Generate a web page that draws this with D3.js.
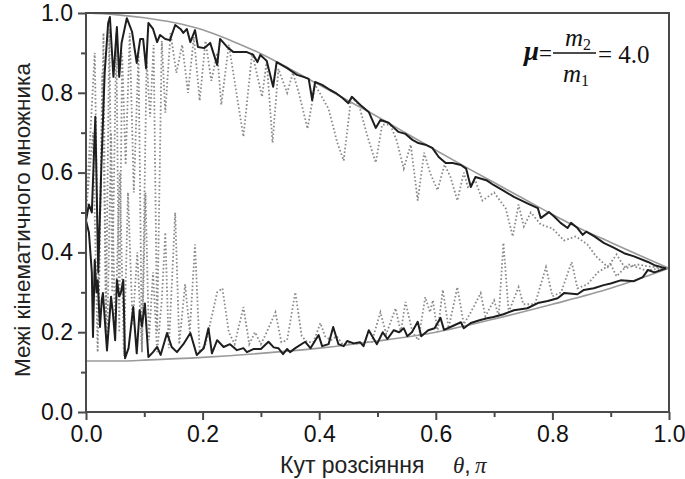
<!DOCTYPE html>
<html>
<head>
<meta charset="utf-8">
<script src="https://cdn.jsdelivr.net/npm/d3@7"></script>
<style>
  body { margin: 0; background: #fff; }
  svg { display: block; }
  .tick text { font-family: "Liberation Sans", Arial, sans-serif; }
</style>
</head>
<body>
<svg id="chart" width="685" height="479"></svg>
<script>
// ---- data ----
// x is scattering angle in units of pi, y is the kinematic factor bound

// smooth theoretical bounds (gray)
const upperBound = [[0, 1.0], [0.05, 0.996], [0.1, 0.988], [0.15, 0.976], [0.2, 0.958], [0.25, 0.93],
  [0.3, 0.898], [0.35, 0.86], [0.4, 0.82], [0.45, 0.78], [0.5, 0.74], [0.55, 0.698], [0.6, 0.656],
  [0.65, 0.615], [0.7, 0.575], [0.75, 0.535], [0.8, 0.495], [0.85, 0.458], [0.9, 0.425],
  [0.95, 0.392], [1.0, 0.36]];

const lowerBound = [[0, 0.128], [0.065, 0.128], [0.1, 0.13], [0.2, 0.137], [0.3, 0.147], [0.4, 0.16],
  [0.5, 0.178], [0.6, 0.2], [0.7, 0.233], [0.8, 0.27], [0.9, 0.31], [1.0, 0.36]];

// simulated upper limit (black solid)
const upperSim = [[0, 0.48], [0.005, 0.52], [0.01, 0.5], [0.016, 0.74], [0.021, 0.35], [0.026, 0.6],
  [0.032, 0.85], [0.038, 0.975], [0.041, 0.99], [0.047, 0.84], [0.053, 0.965], [0.057, 0.84],
  [0.061, 0.925], [0.07, 0.987], [0.079, 0.953], [0.087, 0.875], [0.093, 0.935], [0.098, 0.935],
  [0.103, 0.862], [0.107, 0.975], [0.115, 0.96], [0.122, 0.927], [0.127, 0.945], [0.136, 0.935],
  [0.144, 0.932], [0.153, 0.97], [0.162, 0.96], [0.167, 0.95], [0.173, 0.96], [0.179, 0.927],
  [0.187, 0.957], [0.192, 0.915], [0.203, 0.912], [0.213, 0.925], [0.225, 0.87], [0.23, 0.935],
  [0.242, 0.915], [0.253, 0.902], [0.276, 0.902], [0.287, 0.895], [0.294, 0.877], [0.299, 0.895],
  [0.31, 0.88], [0.321, 0.815], [0.327, 0.877], [0.345, 0.862], [0.362, 0.845], [0.373, 0.84],
  [0.382, 0.835], [0.388, 0.782], [0.393, 0.827], [0.405, 0.82], [0.419, 0.807], [0.428, 0.8],
  [0.44, 0.787], [0.45, 0.774], [0.456, 0.79], [0.471, 0.769], [0.485, 0.752], [0.497, 0.712],
  [0.505, 0.732], [0.519, 0.725], [0.527, 0.714], [0.536, 0.702], [0.548, 0.697], [0.56, 0.682],
  [0.57, 0.674], [0.582, 0.67], [0.594, 0.662], [0.605, 0.639], [0.617, 0.624], [0.629, 0.624],
  [0.643, 0.619], [0.652, 0.61], [0.66, 0.564], [0.668, 0.589], [0.688, 0.58], [0.699, 0.569],
  [0.716, 0.555], [0.734, 0.539], [0.757, 0.523], [0.775, 0.511], [0.78, 0.486], [0.794, 0.501],
  [0.803, 0.49], [0.814, 0.474], [0.826, 0.461], [0.832, 0.474], [0.843, 0.461], [0.852, 0.444],
  [0.858, 0.452], [0.872, 0.44], [0.888, 0.424], [0.905, 0.412], [0.923, 0.398], [0.94, 0.39],
  [0.964, 0.376], [0.975, 0.368], [0.995, 0.36]];

// simulated lower limit (black solid)
const lowerSim = [[0, 0.48], [0.005, 0.45], [0.01, 0.35], [0.012, 0.188], [0.015, 0.381], [0.018, 0.3],
  [0.02, 0.33], [0.024, 0.213], [0.027, 0.28], [0.029, 0.298], [0.036, 0.155], [0.043, 0.289],
  [0.046, 0.25], [0.05, 0.18], [0.053, 0.331], [0.057, 0.29], [0.06, 0.3], [0.064, 0.331],
  [0.067, 0.135], [0.073, 0.16], [0.081, 0.263], [0.087, 0.147], [0.092, 0.255], [0.096, 0.215],
  [0.101, 0.272], [0.107, 0.138], [0.115, 0.15], [0.122, 0.163], [0.128, 0.143], [0.139, 0.198],
  [0.147, 0.163], [0.156, 0.15], [0.167, 0.17], [0.179, 0.198], [0.19, 0.143], [0.202, 0.16],
  [0.21, 0.21], [0.216, 0.147], [0.225, 0.18], [0.236, 0.163], [0.247, 0.17], [0.259, 0.155],
  [0.27, 0.16], [0.276, 0.15], [0.288, 0.158], [0.3, 0.158], [0.313, 0.176], [0.322, 0.162],
  [0.33, 0.16], [0.338, 0.145], [0.345, 0.158], [0.35, 0.15], [0.359, 0.16], [0.376, 0.176],
  [0.385, 0.16], [0.399, 0.193], [0.405, 0.165], [0.416, 0.17], [0.424, 0.213], [0.433, 0.17],
  [0.442, 0.165], [0.448, 0.178], [0.459, 0.172], [0.47, 0.175], [0.476, 0.165], [0.485, 0.205],
  [0.499, 0.17], [0.509, 0.2], [0.517, 0.183], [0.528, 0.205], [0.537, 0.2], [0.545, 0.21],
  [0.551, 0.19], [0.559, 0.2], [0.569, 0.226], [0.575, 0.19], [0.587, 0.205], [0.598, 0.21],
  [0.608, 0.236], [0.614, 0.206], [0.628, 0.215], [0.643, 0.225], [0.648, 0.21], [0.66, 0.223],
  [0.675, 0.23], [0.688, 0.235], [0.699, 0.238], [0.716, 0.245], [0.734, 0.255], [0.757, 0.26],
  [0.775, 0.273], [0.792, 0.278], [0.809, 0.285], [0.82, 0.298], [0.843, 0.295], [0.854, 0.306],
  [0.871, 0.31], [0.888, 0.318], [0.9, 0.322], [0.917, 0.33], [0.94, 0.328], [0.955, 0.338],
  [0.964, 0.356], [0.975, 0.35], [0.995, 0.36]];

// single-trajectory values (gray dotted), upper and lower branch
const upperDots = [[0, 0.5], [0.012, 0.7], [0.02, 0.15], [0.03, 0.95], [0.034, 0.2], [0.04, 0.96],
  [0.045, 0.3], [0.052, 0.95], [0.057, 0.2], [0.062, 0.9], [0.068, 0.62], [0.075, 0.95],
  [0.082, 0.55], [0.09, 0.9], [0.096, 0.15], [0.104, 0.88], [0.11, 0.74], [0.116, 0.92],
  [0.122, 0.2], [0.13, 0.93], [0.136, 0.75], [0.145, 0.95], [0.155, 0.85], [0.165, 0.92],
  [0.175, 0.8], [0.185, 0.94], [0.195, 0.78], [0.205, 0.93], [0.215, 0.83], [0.225, 0.9],
  [0.232, 0.77], [0.245, 0.92], [0.27, 0.69], [0.285, 0.9], [0.302, 0.79], [0.31, 0.88],
  [0.32, 0.675], [0.33, 0.86], [0.345, 0.8], [0.355, 0.85], [0.365, 0.8], [0.38, 0.71],
  [0.393, 0.82], [0.416, 0.76], [0.431, 0.675], [0.442, 0.63], [0.455, 0.79], [0.468, 0.77],
  [0.483, 0.69], [0.497, 0.625], [0.508, 0.72], [0.522, 0.72], [0.533, 0.68], [0.545, 0.61],
  [0.557, 0.67], [0.569, 0.53], [0.58, 0.65], [0.59, 0.6], [0.603, 0.556], [0.615, 0.62],
  [0.625, 0.59], [0.637, 0.53], [0.648, 0.6], [0.655, 0.564], [0.668, 0.58], [0.68, 0.53],
  [0.7, 0.55], [0.72, 0.51], [0.732, 0.44], [0.742, 0.52], [0.751, 0.465], [0.763, 0.5],
  [0.78, 0.47], [0.8, 0.46], [0.82, 0.43], [0.84, 0.44], [0.86, 0.42], [0.875, 0.39],
  [0.895, 0.363], [0.91, 0.395], [0.925, 0.36], [0.945, 0.37], [0.965, 0.365], [0.99, 0.36],
  [1.0, 0.36]];

const lowerDots = [[0, 0.5], [0.015, 0.9], [0.022, 0.25], [0.028, 0.85], [0.036, 0.15], [0.043, 0.7],
  [0.05, 0.2], [0.058, 0.6], [0.065, 0.14], [0.072, 0.55], [0.08, 0.22], [0.088, 0.4],
  [0.096, 0.15], [0.102, 0.55], [0.108, 0.18], [0.115, 0.35], [0.122, 0.15], [0.13, 0.28],
  [0.136, 0.45], [0.142, 0.16], [0.153, 0.5], [0.16, 0.17], [0.17, 0.32], [0.178, 0.2],
  [0.187, 0.42], [0.195, 0.15], [0.205, 0.17], [0.225, 0.3], [0.234, 0.31], [0.245, 0.2],
  [0.255, 0.17], [0.27, 0.263], [0.28, 0.17], [0.29, 0.2], [0.3, 0.17], [0.31, 0.2],
  [0.325, 0.25], [0.335, 0.175], [0.345, 0.18], [0.359, 0.3], [0.37, 0.19], [0.38, 0.175],
  [0.39, 0.175], [0.402, 0.223], [0.41, 0.19], [0.42, 0.18], [0.43, 0.19], [0.44, 0.17],
  [0.46, 0.17], [0.48, 0.175], [0.49, 0.175], [0.505, 0.25], [0.515, 0.195], [0.531, 0.26],
  [0.54, 0.2], [0.548, 0.276], [0.56, 0.2], [0.57, 0.18], [0.582, 0.288], [0.59, 0.25],
  [0.595, 0.28], [0.603, 0.2], [0.612, 0.306], [0.622, 0.21], [0.637, 0.313], [0.648, 0.22],
  [0.66, 0.25], [0.677, 0.298], [0.685, 0.24], [0.7, 0.28], [0.708, 0.24], [0.716, 0.424],
  [0.725, 0.25], [0.742, 0.313], [0.75, 0.27], [0.77, 0.27], [0.789, 0.363], [0.8, 0.29],
  [0.815, 0.3], [0.833, 0.376], [0.843, 0.31], [0.86, 0.32], [0.878, 0.35], [0.9, 0.37],
  [0.91, 0.34], [0.93, 0.37], [0.96, 0.355], [0.99, 0.36], [1.0, 0.36]];

const majorTicks = [0, 0.2, 0.4, 0.6, 0.8, 1.0];
const minorTicks = [0.1, 0.3, 0.5, 0.7, 0.9];

const yTitle = "Межі кінематичного множника";
const xTitle = "Кут розсіяння";

// ---- layout ----
const svg = d3.select("#chart");
const W = +svg.attr("width"), H = +svg.attr("height");
const margin = { top: 13, right: 16, bottom: 67, left: 86 };
const iw = W - margin.left - margin.right;
const ih = H - margin.top - margin.bottom;

const x = d3.scaleLinear().domain([0, 1]).range([0, iw]);
const y = d3.scaleLinear().domain([0, 1]).range([ih, 0]);

const g = svg.append("g").attr("transform", `translate(${margin.left},${margin.top})`);

const line = d3.line().x(d => x(d[0])).y(d => y(d[1]));
const smooth = d3.line().x(d => x(d[0])).y(d => y(d[1])).curve(d3.curveMonotoneX);

// dotted trajectories first, so the solid lines sit on top
[upperDots, lowerDots].forEach(arr => {
  g.append("path")
    .datum(arr)
    .attr("fill", "none")
    .attr("stroke", "#8a8a8a")
    .attr("stroke-width", 1.8)
    .attr("stroke-dasharray", "1.6,2.2")
    .attr("d", line);
});

// theoretical bounds
[upperBound, lowerBound].forEach(arr => {
  g.append("path")
    .datum(arr)
    .attr("fill", "none")
    .attr("stroke", "#9a9a9a")
    .attr("stroke-width", 1.6)
    .attr("d", smooth);
});

// simulated limits
[upperSim, lowerSim].forEach(arr => {
  g.append("path")
    .datum(arr)
    .attr("fill", "none")
    .attr("stroke", "#1e1e1e")
    .attr("stroke-width", 2)
    .attr("stroke-linejoin", "round")
    .attr("d", line);
});

// frame
g.append("rect")
  .attr("width", iw).attr("height", ih)
  .attr("fill", "none")
  .attr("stroke", "#4a4a4a")
  .attr("stroke-width", 2);

// axes (major ticks with labels, minor without)
const fmt = d3.format(".1f");
function styleAxis(sel) {
  sel.select(".domain").remove();
  sel.selectAll("line").attr("stroke", "#4a4a4a").attr("stroke-width", 2);
  sel.selectAll("text").attr("fill", "#111").style("font-size", "23px");
}

g.append("g")
  .attr("transform", `translate(0,${ih})`)
  .call(d3.axisBottom(x).tickValues(majorTicks).tickFormat(fmt).tickSize(8).tickPadding(6))
  .call(styleAxis);
g.append("g")
  .attr("transform", `translate(0,${ih})`)
  .call(d3.axisBottom(x).tickValues(minorTicks).tickFormat("").tickSize(5))
  .call(styleAxis);

g.append("g")
  .call(d3.axisLeft(y).tickValues(majorTicks).tickFormat(fmt).tickSize(8).tickPadding(5))
  .call(styleAxis);
g.append("g")
  .call(d3.axisLeft(y).tickValues(minorTicks).tickFormat("").tickSize(5))
  .call(styleAxis);

// axis titles
svg.append("text")
  .attr("transform", `translate(30,220) rotate(-90)`)
  .attr("text-anchor", "middle")
  .style("font-family", "Liberation Sans, Arial, sans-serif")
  .style("font-size", "22.5px")
  .attr("fill", "#222")
  .text(yTitle);

const xt = svg.append("text")
  .attr("x", 280)
  .attr("y", 473)
  .style("font-family", "Liberation Sans, Arial, sans-serif")
  .style("font-size", "23px")
  .attr("fill", "#222");
xt.append("tspan").text(xTitle);
xt.append("tspan").attr("x", 453).style("font-family", "Liberation Serif, serif").style("font-style", "italic").text("θ");
xt.append("tspan").text(",");
xt.append("tspan").attr("x", 475).style("font-family", "Liberation Serif, serif").style("font-style", "italic").text("π");

// mass ratio annotation
const ann = svg.append("g")
  .style("font-family", "Liberation Serif, 'Times New Roman', serif")
  .attr("fill", "#111");
ann.append("text").attr("x", 524).attr("y", 60)
  .style("font-size", "27px").style("font-style", "italic").style("font-weight", "bold")
  .text("μ");
ann.append("text").attr("x", 539).attr("y", 61).style("font-size", "23px").text("=");
ann.append("line").attr("x1", 553).attr("x2", 596).attr("y1", 53).attr("y2", 53)
  .attr("stroke", "#111").attr("stroke-width", 1.3);
const num = ann.append("text").attr("x", 565).attr("y", 46).style("font-size", "25px");
num.append("tspan").style("font-style", "italic").text("m");
num.append("tspan").attr("dy", 4).style("font-size", "16px").text("2");
const den = ann.append("text").attr("x", 563).attr("y", 82).style("font-size", "25px");
den.append("tspan").style("font-style", "italic").text("m");
den.append("tspan").attr("dy", 4).style("font-size", "16px").text("1");
ann.append("text").attr("x", 598).attr("y", 63).style("font-size", "25px").text("= 4.0");
</script>
</body>
</html>
